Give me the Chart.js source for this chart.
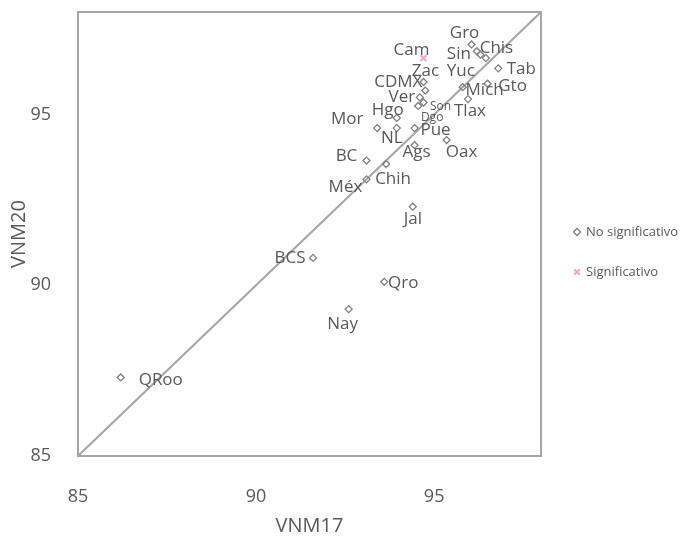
<!DOCTYPE html>
<html>
<head>
<meta charset="utf-8">
<script src="https://cdn.jsdelivr.net/npm/chart.js@4"></script>
<style>
  html, body { margin: 0; padding: 0; background: #fff; }
  #wrap { width: 684px; height: 537px; }
</style>
</head>
<body>
<div id="wrap"><canvas id="grafico"></canvas></div>
<script>
// estados sin cambio significativo
const estados = ["QRoo", "BCS", "Qro", "Nay", "Jal", "Méx", "BC", "Chih", "Ags", "Oax", "Pue", "NL", "Mor", "Hgo",
  "Dgo", "Son", "Tlax", "Ver", "CDMX", "Zac", "Yuc", "Sin", "Gro", "Chis", "Tab", "Gto", "Mich"];
const vnm17 = [86.2, 91.6, 93.6, 92.6, 94.4, 93.1, 93.1, 93.65, 94.45, 95.35, 94.45, 93.95, 93.4, 93.95,
  94.55, 94.7, 95.95, 94.6, 94.75, 94.7, 96.45, 96.2, 96.05, 96.3, 96.8, 96.5, 95.8];
const vnm20 = [87.3, 90.8, 90.1, 89.3, 92.3, 93.1, 93.65, 93.55, 94.1, 94.25, 94.6, 94.6, 94.6, 94.9,
  95.25, 95.35, 95.45, 95.5, 95.7, 95.95, 96.65, 96.85, 97.05, 96.75, 96.35, 95.9, 95.8];

// estados con cambio significativo
const estadosSig = ["Cam"];
const vnm17Sig = [94.7];
const vnm20Sig = [96.65];

const ticksEje = [85, 90, 95];
const minEje = 85;
const maxEje = 98;

// desplazamiento de cada etiqueta respecto a su punto (px)
const etiquetaDx = [40, -23, 19, -6, 0, -21, -20, 7, 2, 15, 21, -5, -30, -9, 14, 17, 2, -18, -27, 2, -25, -18, -7, 16, 23, 25, 22];
const etiquetaDy = [3, 0, 1, 15, 12, 8, -4, 15, 7, 12, 2, 10, -9, -8, 12, 4, 12, 0, -8, -11, 13, 3, -11, -7, 1, 2, 3];
const etiquetaChica = ["Dgo", "Son"];
const etiquetaSigDx = [-12];
const etiquetaSigDy = [-8];

const gris = "#595959";
const fuente = "'Open Sans', sans-serif";

const puntos = (xs, ys) => xs.map((v, i) => ({ x: v, y: ys[i] }));

// borde del area de trazado
const marco = {
  id: "marco",
  beforeDatasetsDraw(chart) {
    const { ctx, chartArea: a } = chart;
    ctx.save();
    ctx.strokeStyle = "#A6A6A6";
    ctx.lineWidth = 2;
    ctx.strokeRect(a.left, a.top, a.right - a.left, a.bottom - a.top);
    ctx.restore();
  },
};

// etiquetas de los puntos
const etiquetas = {
  id: "etiquetas",
  afterDatasetsDraw(chart) {
    const ctx = chart.ctx;
    ctx.save();
    ctx.fillStyle = gris;
    ctx.textAlign = "center";
    ctx.textBaseline = "middle";
    chart.getDatasetMeta(0).data.forEach((p, i) => {
      const chica = etiquetaChica.includes(estados[i]);
      ctx.font = (chica ? "12px " : "17px ") + fuente;
      ctx.fillText(estados[i], p.x + etiquetaDx[i], p.y + etiquetaDy[i]);
    });
    chart.getDatasetMeta(1).data.forEach((p, i) => {
      ctx.font = "17px " + fuente;
      ctx.fillText(estadosSig[i], p.x + etiquetaSigDx[i], p.y + etiquetaSigDy[i]);
    });
    ctx.restore();
  },
};

// leyenda a la derecha
const leyenda = {
  id: "leyenda",
  afterDraw(chart) {
    const ctx = chart.ctx;
    const x = chart.chartArea.right + 36;
    const y0 = 232;
    ctx.save();
    ctx.font = "13px " + fuente;
    ctx.textBaseline = "middle";
    [0, 1].forEach((k) => {
      const ds = chart.data.datasets[k];
      const y = y0 + k * 40;
      ctx.strokeStyle = ds.borderColor;
      ctx.fillStyle = ds.backgroundColor;
      ctx.lineWidth = ds.borderWidth;
      Chart.helpers.drawPoint(ctx, {
        pointStyle: ds.pointStyle,
        radius: ds.pointRadius,
        borderWidth: ds.borderWidth,
      }, x, y);
      ctx.fillStyle = gris;
      ctx.fillText(ds.label, x + 9, y);
    });
    ctx.restore();
  },
};

const ctx = document.getElementById("grafico");
new Chart(ctx, {
  type: "scatter",
  data: {
    datasets: [
      {
        label: "No significativo",
        data: puntos(vnm17, vnm20),
        pointStyle: "rectRot",
        pointRadius: 3.5,
        borderWidth: 1.3,
        borderColor: "#7F7F7F",
        backgroundColor: "rgba(255,255,255,0)",
      },
      {
        label: "Significativo",
        data: puntos(vnm17Sig, vnm20Sig),
        pointStyle: "crossRot",
        pointRadius: 4,
        borderWidth: 2,
        borderColor: "#F4A6C8",
        backgroundColor: "#F4A6C8",
      },
      {
        type: "line",
        label: "diagonal",
        data: [{ x: minEje, y: minEje }, { x: maxEje, y: maxEje }],
        borderColor: "#A6A6A6",
        borderWidth: 2,
        pointRadius: 0,
      },
    ],
  },
  options: {
    responsive: true,
    maintainAspectRatio: false,
    animation: false,
    layout: { padding: { top: 12, right: 143 } },
    scales: {
      x: {
        type: "linear",
        min: minEje,
        max: maxEje,
        afterFit: (s) => { s.height = 81; s.paddingLeft = 0; s.paddingRight = 0; },
        afterBuildTicks: (s) => { s.ticks = ticksEje.map((v) => ({ value: v })); },
        border: { display: false },
        grid: { display: false },
        ticks: { color: gris, font: { family: fuente, size: 18 }, padding: 22 },
        title: {
          display: true,
          text: "VNM17",
          color: gris,
          font: { family: fuente, size: 20, lineHeight: 1 },
          padding: { top: 0, bottom: 1 },
        },
      },
      y: {
        type: "linear",
        min: minEje,
        max: maxEje,
        afterFit: (s) => { s.width = 78; s.paddingTop = 0; s.paddingBottom = 0; },
        afterBuildTicks: (s) => { s.ticks = ticksEje.map((v) => ({ value: v })); },
        border: { display: false },
        grid: { display: false },
        ticks: { color: gris, font: { family: fuente, size: 18 }, padding: 19 },
        title: {
          display: true,
          text: "VNM20",
          color: gris,
          font: { family: fuente, size: 20, lineHeight: 1.2 },
          padding: { top: 7, bottom: 0 },
        },
      },
    },
    plugins: {
      legend: { display: false },
      tooltip: { enabled: false },
    },
  },
  plugins: [marco, etiquetas, leyenda],
});
</script>
</body>
</html>
